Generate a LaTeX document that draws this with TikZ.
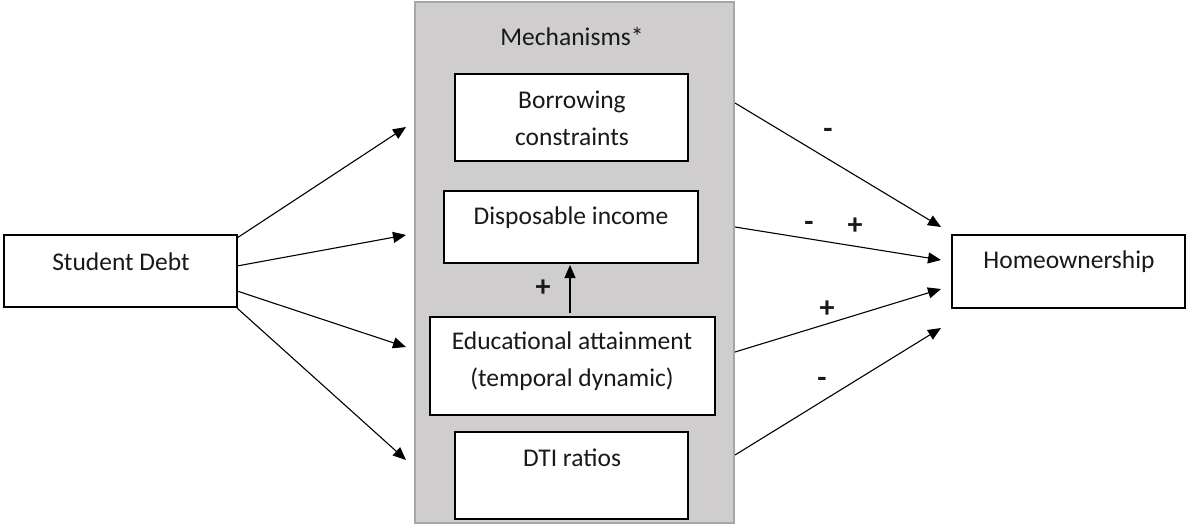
\documentclass[tikz,border=0pt]{standalone}
\usepackage{fontspec}
\setmainfont{Carlito}
\usetikzlibrary{arrows.meta}
\definecolor{mechfill}{HTML}{CFCDCD}
\definecolor{mechdraw}{HTML}{A6A6A6}
\begin{document}
\begin{tikzpicture}[x=1pt,y=-1pt,
  every node/.style={font=\fontsize{25.5}{37}\selectfont, text=black!90},
  boxnode/.style={draw=black, line width=1.8pt, fill=white, inner sep=0pt},
  txt/.style={inner sep=0pt, align=center},
  sign/.style={inner sep=0pt, font=\fontsize{30}{32}\selectfont\bfseries},
  conn/.style={line width=1.1pt, -{Triangle[length=13pt,width=11pt]}}]
\useasboundingbox (0,0) rectangle (1186,527);
% mechanisms panel
\node[draw=mechdraw, fill=mechfill, line width=2pt, minimum width=319pt, minimum height=521pt, inner sep=0pt] (mech) at (574.5,262.5) {};
\node[txt] (mechlabel) at (572,37) {Mechanisms*};
% boxes
\node[boxnode, minimum width=233pt, minimum height=87pt] (borrow) at (571.5,117.5) {};
\node[txt] (borrowtxt) at (572,118) {Borrowing\\constraints};
\node[boxnode, minimum width=254pt, minimum height=72pt] (dispo) at (571,227) {};
\node[txt] (dispotxt) at (571,218) {Disposable income};
\node[boxnode, minimum width=285pt, minimum height=98pt] (educ) at (572.5,366) {};
\node[txt] (eductxt) at (572,361.5) {Educational attainment\\(temporal dynamic)};
\node[boxnode, minimum width=233pt, minimum height=87pt] (dti) at (571.5,475.5) {};
\node[txt] (dtitxt) at (572,458) {DTI ratios};
\node[boxnode, minimum width=233pt, minimum height=72pt] (sd) at (120.5,271) {};
\node[txt] (sdtxt) at (121,262) {Student Debt};
\node[boxnode, minimum width=233pt, minimum height=73pt] (home) at (1068.5,271.5) {};
\node[txt] (hometxt) at (1069,262) {Homeownership};
% internal arrow
\coordinate (up1) at (570,313);
\coordinate (up2) at (570,265);
\draw[conn] (up1) -- (up2);
\node[sign] (pluse) at (543,288) {+};
% left arrows
\coordinate (l1s) at (237,238); \coordinate (l1e) at (406,127);
\coordinate (l2s) at (237,266); \coordinate (l2e) at (406,235);
\coordinate (l3s) at (237,291); \coordinate (l3e) at (406,347);
\coordinate (l4s) at (237,308); \coordinate (l4e) at (406,460);
\draw[conn] (l1s) -- (l1e);
\draw[conn] (l2s) -- (l2e);
\draw[conn] (l3s) -- (l3e);
\draw[conn] (l4s) -- (l4e);
% right arrows
\coordinate (r1s) at (735,103); \coordinate (r1e) at (941,227);
\coordinate (r2s) at (735,227); \coordinate (r2e) at (941,260);
\coordinate (r3s) at (735,352); \coordinate (r3e) at (941,289);
\coordinate (r4s) at (735,455); \coordinate (r4e) at (941,328);
\draw[conn] (r1s) -- (r1e);
\draw[conn] (r2s) -- (r2e);
\draw[conn] (r3s) -- (r3e);
\draw[conn] (r4s) -- (r4e);
% signs
\node[sign] (s1) at (828,133) {-};
\node[sign] (s2a) at (809,226) {-};
\node[sign] (s2b) at (855,226) {+};
\node[sign] (s3) at (827,309) {+};
\node[sign] (s4) at (822,382) {-};
\end{tikzpicture}
\end{document}
